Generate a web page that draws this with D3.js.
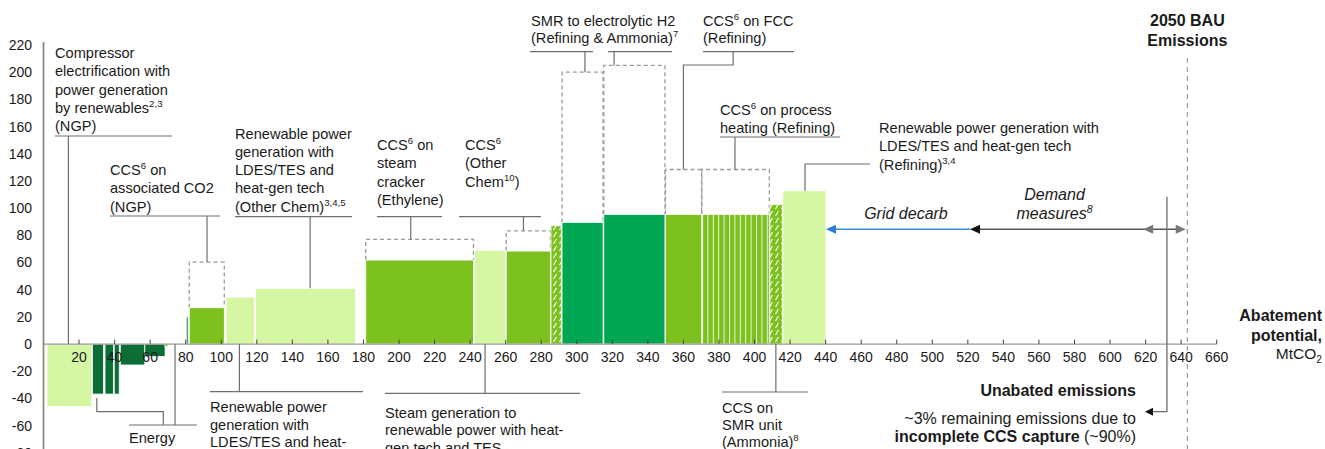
<!DOCTYPE html>
<html><head><meta charset="utf-8">
<script src="https://cdn.jsdelivr.net/npm/d3@7"></script>
<style>
html,body{margin:0;padding:0;background:#fff;}
svg{display:block;font-family:"Liberation Sans",Arial,sans-serif;}
</style></head><body>
<svg id="chart" width="1325" height="449"></svg>
<script>
// ---------------- DATA ----------------
// Abatement levers: cumulative abatement start / end (MtCO2) and cost
const barStart = [2, 27.5, 34.6, 39.8, 43.2, 57, 68.4, 80.3, 82, 102.7, 119.2, 181.3, 242.5, 260.3, 285.5, 291.7, 315.2, 349.9, 370.4, 408.6, 415.9];
const barEnd   = [27.2, 33.8, 39.3, 42.6, 57, 68.4, 70, 81.4, 101.7, 118.7, 175.6, 241.9, 259.8, 285.2, 291.4, 314.8, 349.6, 370.2, 408.3, 415.6, 440.2];
const barCost  = [-46, -36.8, -36.8, -36.8, -15.4, -9.2, -2, 20, 26.7, 34.5, 41, 61.8, 69, 68.4, 87, 89.5, 95.4, 95.4, 95.4, 102.7, 112.7];
const barKind  = ["light","dark","dark","dark","dark","dark","lime","teal","lime","light","light","lime","light","lime","hatch","bright","bright","lime","stripe","hatch","light"];
// Higher-cost variants (dashed outlines) : index of bar and cost
const dashedBar  = [8, 11, 13, 15, 16, 17, 18];
const dashedCost = [60.3, 77, 83.3, 200, 205, 128.4, 128.4];
const yTicks = d3.range(-80, 221, 20);
const xTicks = d3.range(20, 661, 20);
const bauEmissions = 643.5;
const gridDecarbRange = [440.2, 521.2];
const demandRange = [521.2, 618.6];
const remainingRange = [618.6, 642.6];
const ccsLeakX = 632;

// ---------------- SCALES ----------------
const svg = d3.select("#chart");
const x = d3.scaleLinear().domain([0, 660]).range([43.5, 1216.7]);
const y = d3.scaleLinear().domain([-80, 220]).range([452.8, 45]);

const colors = {light:"#d5f6a3", dark:"#0c6d35", teal:"#1b8c5e", lime:"#7cc11d", bright:"#00a651"};
const defs = svg.append("defs");
const hp = defs.append("pattern").attr("id","hatch").attr("patternUnits","userSpaceOnUse")
  .attr("width",6).attr("height",7);
hp.append("rect").attr("width",6).attr("height",7).attr("fill",colors.lime);
hp.append("path").attr("d","M1.5,6 L4.5,1").attr("stroke","#fff").attr("stroke-width",1.1);
const sp = defs.append("pattern").attr("id","stripe").attr("patternUnits","userSpaceOnUse")
  .attr("width",5.4).attr("height",10);
sp.append("rect").attr("width",5.4).attr("height",10).attr("fill",colors.lime);
sp.append("rect").attr("x",0).attr("width",1).attr("height",10).attr("fill","#fff").attr("opacity",0.85);

function fillOf(k){ if(k==="hatch") return "url(#hatch)"; if(k==="stripe") return "url(#stripe)"; return colors[k]; }

const FS = 14.6, LH = 18.3;
function richText(sel, str, size) {
  const parts = str.split(/(\^\{[^}]*\}|_\{[^}]*\}|\*\*[^*]*\*\*)/).filter(s => s.length);
  let shift = 0;
  parts.forEach(p => {
    const t = sel.append("tspan");
    let txt = p, dy = 0, fs = null, fw = null;
    if (p.startsWith("^{")) { txt = p.slice(2,-1); fs = size*0.66; dy = -size*0.38; }
    else if (p.startsWith("_{")) { txt = p.slice(2,-1); fs = size*0.66; dy = size*0.25; }
    else if (p.startsWith("**")) { txt = p.slice(2,-2); fw = "bold"; }
    const d = dy - shift; shift = dy;
    if (d) t.attr("dy", d);
    if (fs) t.attr("font-size", fs);
    if (fw) t.attr("font-weight", fw);
    t.text(txt);
  });
}
function textBlock(g, lines, px, py, opts={}) {
  const size = opts.size || FS, lh = opts.lh || LH;
  lines.forEach((ln, i) => {
    const t = g.append("text").attr("x", px).attr("y", py + i*lh)
      .attr("font-size", size).attr("fill", "#1a1a1a")
      .attr("text-anchor", opts.anchor || "start");
    if (opts.weight) t.attr("font-weight", opts.weight);
    if (opts.italic) t.attr("font-style", "italic");
    richText(t, ln, size);
  });
}

// ---------------- DASHED HIGHER-COST OUTLINES ----------------
const gDash = svg.append("g");
dashedBar.forEach((bi, i) => {
  const x0 = x(barStart[bi]), x1 = x(barEnd[bi]), yb = y(barCost[bi]), yt = y(dashedCost[i]);
  gDash.append("path").attr("d", `M${x0},${yb}V${yt}H${x1}V${yb}`)
    .attr("fill","none").attr("stroke","#9a9a9a").attr("stroke-width",1.3).attr("stroke-dasharray","4,3");
});

// ---------------- BARS ----------------
svg.append("g").selectAll("rect").data(barCost).join("rect")
  .attr("x", (d,i) => x(barStart[i]))
  .attr("width", (d,i) => x(barEnd[i]) - x(barStart[i]))
  .attr("y", d => Math.min(y(d), y(0)))
  .attr("height", d => Math.abs(y(d) - y(0)))
  .attr("fill", (d,i) => fillOf(barKind[i]))
  .attr("stroke", "#fff").attr("stroke-width", 0.8);

// ---------------- AXES ----------------
const gA = svg.append("g");
gA.append("line").attr("x1", x(0)).attr("x2", x(0)).attr("y1", 42).attr("y2", 449)
  .attr("stroke","#8a8a8a").attr("stroke-width",1.8);
gA.append("line").attr("x1", x(0)).attr("x2", x(660)).attr("y1", y(0)).attr("y2", y(0))
  .attr("stroke","#9a9a9a").attr("stroke-width",1.2);
gA.selectAll(".xt").data(xTicks).join("line").attr("class","xt")
  .attr("x1", d => x(d)).attr("x2", d => x(d)).attr("y1", y(0)-4.5).attr("y2", y(0))
  .attr("stroke","#444").attr("stroke-width",1);
gA.selectAll(".xl").data(xTicks).join("text").attr("class","xl")
  .attr("x", d => x(d)).attr("y", y(0)+17.5).attr("text-anchor","middle")
  .attr("font-size",14).attr("fill","#1a1a1a").text(d => d);
gA.selectAll(".yl").data(yTicks).join("text").attr("class","yl")
  .attr("x", 32).attr("y", d => y(d)+5).attr("text-anchor","end")
  .attr("font-size",14).attr("fill","#1a1a1a").text(d => d);

// BAU line
svg.append("line").attr("x1", x(bauEmissions)).attr("x2", x(bauEmissions)).attr("y1", 58).attr("y2", 449)
  .attr("stroke","#a0a0a0").attr("stroke-width",1.2).attr("stroke-dasharray","5,4");

// ---------------- ANNOTATIONS ----------------
const gL = svg.append("g").attr("fill","none").attr("stroke","#6e6e6e").attr("stroke-width",1.2);
const gT = svg.append("g");
function hline(x1, x2, yy){ gL.append("line").attr("x1",x1).attr("x2",x2).attr("y1",yy).attr("y2",yy); }
function path(pts){ gL.append("path").attr("d", "M" + pts.map(p => p.join(",")).join("L")); }

// top annotations
textBlock(gT, ["Compressor","electrification with","power generation","by renewables^{2,3}","(NGP)"], 55, 58);
hline(55, 172, 136); path([[x(barStart[0]+12), 136],[x(barStart[0]+12), y(0)]]);

textBlock(gT, ["CCS^{6} on","associated CO2","(NGP)"], 110, 175);
hline(110, 220, 216); path([[x(92), 216],[x(92), y(dashedCost[0])]]);

textBlock(gT, ["Renewable power","generation with","LDES/TES and","heat-gen tech","(Other Chem)^{3,4,5}"], 235, 138.5);
hline(235, 352, 216.7); path([[x(150), 216.7],[x(150), y(barCost[10])]]);

textBlock(gT, ["CCS^{6} on","steam","cracker","(Ethylene)"], 377, 150);
hline(377, 442, 216.7); path([[x(206.6), 216.7],[x(206.6), y(dashedCost[1])]]);

textBlock(gT, ["CCS^{6}","(Other","Chem^{10})"], 465, 150);
hline(459, 541, 216.7); path([[x(270), 216.7],[x(270), y(dashedCost[2])]]);

textBlock(gT, ["SMR to electrolytic H2","(Refining & Ammonia)^{7}"], 531, 26, {lh:17});
hline(530, 593, 51.7); hline(608, 672, 51.7);
path([[x(304.6), 51.7],[x(304.6), y(dashedCost[3])]]);
path([[x(321), 51.7],[x(321), y(dashedCost[4])]]);

textBlock(gT, ["CCS^{6} on FCC","(Refining)"], 703, 26, {lh:17});
hline(703, 794, 51.7);
path([[x(388), 51.7],[x(388), 65],[x(360), 65],[x(360), y(dashedCost[5])]]);

textBlock(gT, ["CCS^{6} on process","heating (Refining)"], 720, 115);
hline(720, 840, 137); path([[x(389), 137],[x(389), y(dashedCost[6])]]);

textBlock(gT, ["Renewable power generation with","LDES/TES and heat-gen tech","(Refining)^{3,4}"], 879, 133);
path([[870, 164],[x(428.4), 164],[x(428.4), y(barCost[20])]]);

// bottom annotations
textBlock(gT, ["Energy"], 129, 443);
hline(129, 197, 425);
path([[x(30), 398],[x(30), 411.7],[x(67.4), 411.7],[x(67.4), 425]]);
path([[x(74), y(0)],[x(74), 425]]);

textBlock(gT, ["Renewable power","generation with","LDES/TES and heat-"], 210, 412, {lh:17.6});
hline(210, 363, 391.7); path([[x(110.2), y(0)],[x(110.2), 391.7]]);

textBlock(gT, ["Steam generation to","renewable power with heat-","gen tech and TES"], 385, 418, {lh:17.3});
hline(385, 580, 393.3); path([[x(248.4), y(0)],[x(248.4), 393.3]]);

textBlock(gT, ["CCS on","SMR unit","(Ammonia)^{8}"], 722, 413, {lh:17});
hline(722, 808, 392); path([[x(412), y(0)],[x(412), 392]]);

// right side
textBlock(gT, ["2050 BAU","Emissions"], x(bauEmissions), 26, {size:16, lh:20, anchor:"middle", weight:"bold"});
textBlock(gT, ["Abatement","potential,"], 1322, 321, {size:16, lh:19.5, anchor:"end", weight:"bold"});
textBlock(gT, ["MtCO_{2}"], 1322, 359, {size:15.5, anchor:"end"});
textBlock(gT, ["**Unabated emissions**"], 1136, 396, {size:16, anchor:"end"});
textBlock(gT, ["~3% remaining emissions due to","**incomplete CCS capture** (~90%)"], 1136, 424, {size:16, lh:18, anchor:"end"});

// arrows
function arrowHead(tipX, yy, dir, color, len=10, half=4.5){
  svg.append("path").attr("d", `M${tipX},${yy}L${tipX - dir*len},${yy-half}L${tipX - dir*len},${yy+half}Z`).attr("fill", color);
}
const yArr = 229.3;
svg.append("line").attr("x1", x(gridDecarbRange[0])+4).attr("x2", x(gridDecarbRange[1])).attr("y1", yArr).attr("y2", yArr)
  .attr("stroke","#3a8ed6").attr("stroke-width",1.5);
arrowHead(x(gridDecarbRange[0]), yArr, -1, "#2a7fd0");
svg.append("line").attr("x1", x(demandRange[0])+4).attr("x2", x(remainingRange[1])-4).attr("y1", yArr).attr("y2", yArr)
  .attr("stroke","#555").attr("stroke-width",1.5);
arrowHead(x(demandRange[0]), yArr, -1, "#111");
arrowHead(x(remainingRange[0]), yArr, -1, "#777");
arrowHead(x(remainingRange[1]), yArr, 1, "#777");
textBlock(gT, ["Grid decarb"], (x(gridDecarbRange[0])+x(gridDecarbRange[1]))/2 + 8, 219, {size:16, anchor:"middle", italic:true});
textBlock(gT, ["Demand","measures^{8}"], (x(demandRange[0])+x(demandRange[1]))/2 - 2, 200, {size:16, lh:19, anchor:"middle", italic:true});

// remaining emissions leader
svg.append("path").attr("d", `M${x(ccsLeakX)},196.7V411.7H${1152}`).attr("fill","none").attr("stroke","#6e6e6e").attr("stroke-width",1.3);
arrowHead(1145, 411.7, -1, "#111", 8, 4);
</script>
</body></html>
